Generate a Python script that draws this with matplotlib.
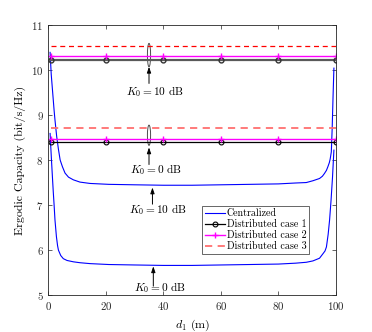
import matplotlib
matplotlib.use("Agg")
import matplotlib.pyplot as plt
from matplotlib.patches import Ellipse

plt.rcParams['font.family'] = 'serif'
plt.rcParams['font.serif'] = ['cmr10', 'DejaVu Serif']
plt.rcParams['mathtext.fontset'] = 'cm'
plt.rcParams['axes.formatter.use_mathtext'] = True

# centralized, K0 = 10 dB
d_c10 = [0.6, 1.0, 1.5, 2.0, 2.3, 2.9, 3.5, 4.1, 4.9, 5.8, 7.0, 8.7, 11, 14.5, 21, 30, 40,
         50, 60, 70, 80, 86, 89.7, 92, 94.3, 95.3, 96, 96.7, 97.2, 97.7, 98, 98.4, 98.7, 99.0, 99.3]
cap_c10 = [10.39, 9.9, 9.5, 9.1, 8.89, 8.52, 8.24, 8.0, 7.85, 7.71, 7.62, 7.56, 7.51, 7.48, 7.46, 7.45, 7.44,
           7.44, 7.45, 7.46, 7.47, 7.49, 7.50, 7.54, 7.59, 7.64, 7.70, 7.77, 7.85, 7.94, 8.02, 8.18, 8.7, 9.4, 10.04]

# centralized, K0 = 0 dB
d_c0 = [0.6, 1.0, 1.3, 1.7, 2.0, 2.3, 2.8, 3.2, 3.5, 4.3, 5.2, 6.5, 8.7, 11, 14.5, 21, 30, 40,
        50, 60, 70, 80, 86, 89.7, 92, 94.3, 95.5, 96.2, 96.7, 97.3, 97.8, 98.3, 98.8, 99.3]
cap_c0 = [8.59, 8.1, 7.75, 7.3, 7.0, 6.67, 6.3, 6.1, 6.0, 5.88, 5.81, 5.77, 5.74, 5.72, 5.70, 5.68, 5.67, 5.66,
          5.66, 5.67, 5.68, 5.69, 5.71, 5.73, 5.76, 5.82, 5.92, 5.98, 6.07, 6.35, 6.67, 7.1, 7.6, 8.22]

# distributed cases (flat)
d_dist = [1, 20, 40, 60, 80, 100]
case1_10 = [10.23] * 6
case2_10 = [10.32] * 6
case3_10 = [10.54] * 6
case1_0 = [8.39] * 6
case2_0 = [8.47] * 6
case3_0 = [8.70] * 6

fig = plt.figure(figsize=(3.72, 3.32), dpi=100)
ax = fig.add_axes([0.130, 0.111, 0.773, 0.814])

ax.plot(d_c10, cap_c10, color='blue', lw=0.8, label='Centralized')
ax.plot(d_c0, cap_c0, color='blue', lw=0.8)

ax.plot(d_dist, case1_10, color='0.35', lw=1.6, marker='o', ms=3.5, mfc='none', mec='0.2', mew=1.0)
ax.plot(d_dist, case1_0, color='black', lw=0.9, marker='o', ms=3.5, mfc='none', mew=0.8,
        label='Distributed case 1')
ax.plot(d_dist, case2_10, color='magenta', lw=1.0, marker='+', ms=4)
ax.plot(d_dist, case2_0, color='magenta', lw=1.0, marker='+', ms=4, label='Distributed case 2')
ax.plot(d_dist, case3_10, color='red', lw=0.9, dashes=(4, 3))
ax.plot(d_dist, case3_0, color='#ff7070', lw=1.3, dashes=(4, 3), label='Distributed case 3')

# ellipses around the distributed groups
ax.add_patch(Ellipse((35, 10.33), 1.1, 0.52, fill=False, ec='0.3', lw=0.7))
ax.add_patch(Ellipse((35, 8.55), 1.1, 0.45, fill=False, ec='0.3', lw=0.7))

arr = dict(arrowstyle='-|>,head_length=0.35,head_width=0.12', color='black', lw=0.7,
           shrinkA=0, shrinkB=0)
ax.annotate('', xy=(35, 10.07), xytext=(35, 9.70), arrowprops=arr)
ax.text(37, 9.52, r'$K_0 = 10$ dB', ha='center', va='center', fontsize=8.2)
ax.annotate('', xy=(35, 8.28), xytext=(35, 7.90), arrowprops=arr)
ax.text(37.6, 7.78, r'$K_0 = 0$ dB', ha='center', va='center', fontsize=8.2)
ax.annotate('', xy=(36.2, 7.39), xytext=(36.2, 7.02), arrowprops=arr)
ax.text(38, 6.89, r'$K_0 = 10$ dB', ha='center', va='center', fontsize=8.2)
ax.annotate('', xy=(36.5, 5.64), xytext=(36.5, 5.2), arrowprops=arr)
ax.text(38.8, 5.16, r'$K_0 = 0$ dB', ha='center', va='center', fontsize=8.2)

ax.set_xlim(0, 100)
ax.set_ylim(5, 11)
ax.set_xticks([0, 20, 40, 60, 80, 100])
ax.set_yticks([5, 6, 7, 8, 9, 10, 11])
ax.tick_params(direction='in', top=True, right=True, labelsize=7.8, length=3, width=0.5, colors='0.15')
for s in ax.spines.values():
    s.set_linewidth(0.6)
    s.set_color('0.15')
ax.set_xlabel(r'$d_1$ (m)', fontsize=8.6)
ax.set_ylabel('Ergodic Capacity (bit/s/Hz)', fontsize=8.6)

leg = ax.legend(loc='lower left', bbox_to_anchor=(0.533, 0.151), fontsize=7.2, handlelength=2.0,
                handletextpad=0.2, labelspacing=0.15, borderpad=0.3, borderaxespad=0,
                fancybox=False, framealpha=1, edgecolor='0.3')
leg.get_frame().set_linewidth(0.6)

fig.savefig('out.png', dpi=100)
